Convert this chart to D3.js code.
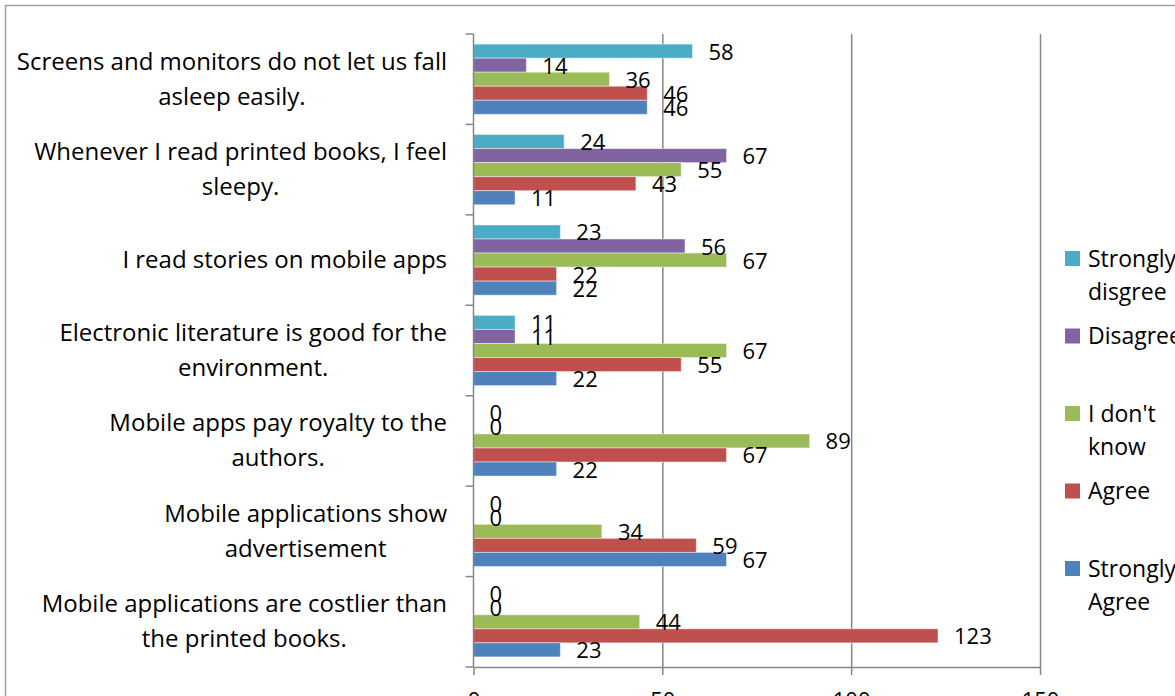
<!DOCTYPE html>
<html>
<head>
<meta charset="utf-8">
<script src="https://cdn.jsdelivr.net/npm/d3@7"></script>
<style>
  body { margin: 0; background: #fff; overflow: hidden; }
  text { font-family: "Open Sans", "Noto Sans", sans-serif; fill: #000; }
</style>
</head>
<body>
<div class="chart"></div>
<script>
// categories, top to bottom ("\n" = line break as wrapped in the original)
const categories = [
  "Screens and monitors do not let us fall\nasleep easily.",
  "Whenever I read printed books, I feel\nsleepy.",
  "I read stories on mobile apps",
  "Electronic literature is good for the\nenvironment.",
  "Mobile apps pay royalty to the\nauthors.",
  "Mobile applications show\nadvertisement",
  "Mobile applications are costlier than\nthe printed books."
];
// series, top bar to bottom bar inside each group
const seriesNames = ["Strongly\ndisgree", "Disagree", "I don't\nknow", "Agree", "Strongly\nAgree"];
const stronglyDisagree = [58, 24, 23, 11, 0, 0, 0];
const disagree         = [14, 67, 56, 11, 0, 0, 0];
const dontKnow         = [36, 55, 67, 67, 89, 34, 44];
const agree            = [46, 43, 22, 55, 67, 59, 123];
const stronglyAgree    = [46, 11, 22, 22, 22, 67, 23];
const xTicks = [0, 50, 100, 150];
const colors = ["#4BACC6", "#8064A2", "#9BBB59", "#C0504D", "#4F81BD"];

const seriesValues = [stronglyDisagree, disagree, dontKnow, agree, stronglyAgree];

// set the dimensions of the graph
const W = 1175, H = 696;
const plot = { left: 473.5, right: 1040, top: 34, bottom: 667 };

const svg = d3.select(".chart")
  .append("svg")
  .attr("width", W)
  .attr("height", H);

// chart border
svg.append("rect")
  .attr("x", 5.5).attr("y", 5.5)
  .attr("width", W + 20).attr("height", H + 20)
  .attr("fill", "#fff")
  .attr("stroke", "#a0a0a0")
  .attr("stroke-width", 1.5);

const x = d3.scaleLinear()
  .domain([0, 150])
  .range([plot.left, plot.right]);

const y = d3.scaleBand()
  .domain(categories)
  .range([plot.top, plot.bottom]);

const ySub = d3.scaleBand()
  .domain(d3.range(seriesNames.length))
  .range([0, y.bandwidth()])
  .paddingOuter(0.72);

// gridlines
svg.append("g")
  .attr("transform", `translate(0, ${plot.bottom})`)
  .call(d3.axisBottom(x).tickValues(xTicks.slice(1)).tickSize(-(plot.bottom - plot.top)).tickFormat(""))
  .call(g => g.select(".domain").remove())
  .call(g => g.selectAll("line").attr("stroke", "#868686").attr("stroke-width", 1.5));

// X axis
svg.append("g")
  .attr("transform", `translate(0, ${plot.bottom})`)
  .call(d3.axisBottom(x).tickValues(xTicks).tickSize(8).tickSizeOuter(0))
  .call(g => g.select(".domain").attr("stroke", "#868686").attr("stroke-width", 1.5))
  .call(g => g.selectAll("line").attr("stroke", "#868686").attr("stroke-width", 1.5))
  .call(g => g.selectAll("text")
    .attr("font-size", "22px")
    .attr("font-family", "Open Sans, sans-serif")
    .attr("fill", "#000")
    .attr("y", 25));

// bars
const rows = [];
categories.forEach((c, ci) => {
  seriesValues.forEach((vals, si) => rows.push({ cat: c, s: si, v: vals[ci] }));
});

const groups = svg.append("g");
groups.selectAll("rect")
  .data(rows)
  .enter()
  .append("rect")
  .attr("x", x(0))
  .attr("y", d => y(d.cat) + ySub(d.s))
  .attr("width", d => x(d.v) - x(0))
  .attr("height", ySub.bandwidth())
  .attr("fill", d => colors[d.s])
  .attr("stroke", "rgba(255,255,255,0.45)")
  .attr("stroke-width", 1);

// data labels
svg.append("g").selectAll("text")
  .data(rows)
  .enter()
  .append("text")
  .attr("x", d => x(d.v) + 16)
  .attr("y", d => y(d.cat) + ySub(d.s) + ySub.bandwidth() / 2 + 8.5)
  .attr("font-size", "22px")
  .text(d => d.v);

// Y axis line + ticks at the band edges
const yAxis = svg.append("g");
yAxis.append("line")
  .attr("x1", x(0)).attr("x2", x(0))
  .attr("y1", plot.top).attr("y2", plot.bottom)
  .attr("stroke", "#868686").attr("stroke-width", 1.5);
const edges = categories.map(c => y(c)).concat([y(categories[categories.length - 1]) + y.bandwidth()]);
yAxis.selectAll(".tk")
  .data(edges)
  .enter()
  .append("line")
  .attr("x1", x(0) - 8).attr("x2", x(0))
  .attr("y1", d => d).attr("y2", d => d)
  .attr("stroke", "#868686").attr("stroke-width", 1.5);

// category labels: block right-aligned, lines centred inside it
const lineH = 35;
categories.forEach(c => {
  const lines = c.split("\n");
  const cy = y(c) + y.bandwidth() / 2;
  const t = svg.append("text")
    .attr("font-size", "24px")
    .attr("text-anchor", "middle");
  lines.forEach((ln, i) => {
    t.append("tspan")
      .attr("y", cy + (i - (lines.length - 1) / 2) * lineH + 8)
      .text(ln);
  });
  const maxW = d3.max(t.selectAll("tspan").nodes(), n => n.getComputedTextLength());
  t.selectAll("tspan").attr("x", 447 - maxW / 2);
});

// legend
const legend = svg.append("g");
seriesNames.forEach((name, i) => {
  const ly = 258.5 + i * 77.5;
  legend.append("rect")
    .attr("x", 1065).attr("y", ly - 7.5)
    .attr("width", 15).attr("height", 15)
    .attr("fill", colors[i]);
  const t = legend.append("text").attr("font-size", "23px");
  name.split("\n").forEach((ln, j) => {
    t.append("tspan").attr("x", 1088).attr("y", ly + 8 + j * 33).text(ln);
  });
});
</script>
</body>
</html>
